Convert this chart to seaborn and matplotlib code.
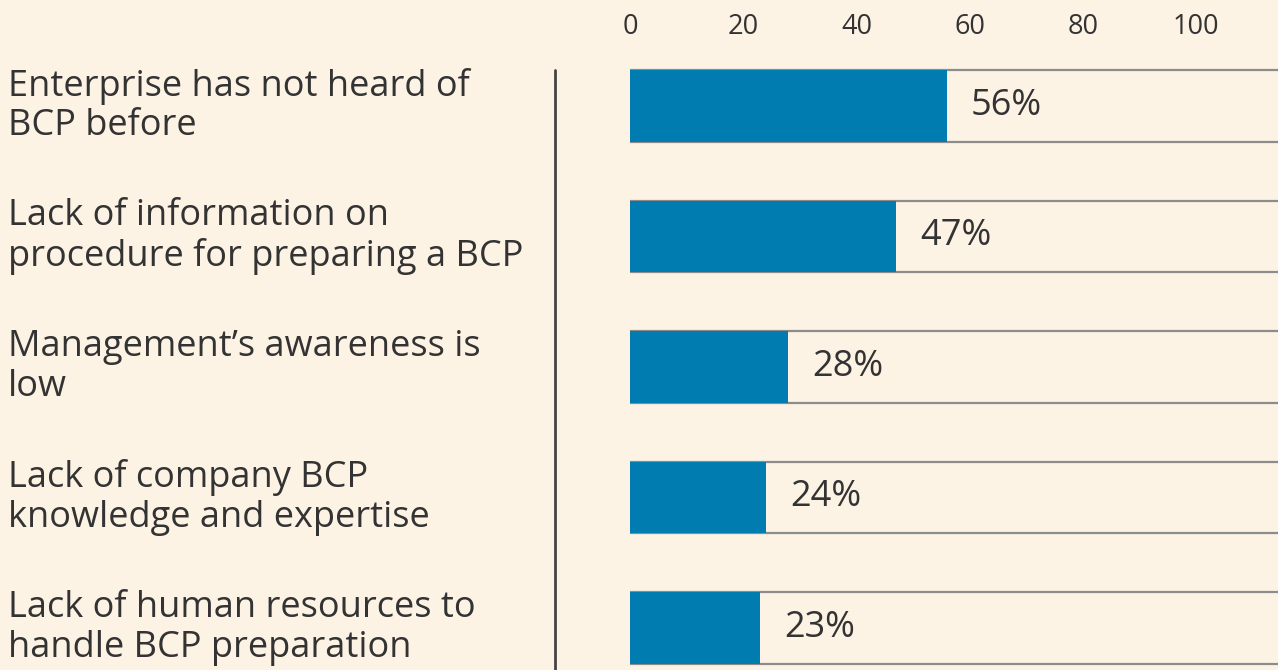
import matplotlib
matplotlib.use("Agg")
import matplotlib.pyplot as plt
import matplotlib.transforms as mtransforms
import seaborn as sns
import pandas as pd

# data
reasons = [
    "Enterprise has not heard of\nBCP before",
    "Lack of information on\nprocedure for preparing a BCP",
    "Management\u2019s awareness is\nlow",
    "Lack of company BCP\nknowledge and expertise",
    "Lack of human resources to\nhandle BCP preparation",
]
shares = [56, 47, 28, 24, 23]
ticks = [0, 20, 40, 60, 80, 100]

bg = "#fdf3e5"
blue = "#007cb0"
txt = "#333333"

sns.set_theme(style="white")
plt.rcParams["font.family"] = ["Open Sans", "DejaVu Sans"]

df = pd.DataFrame({"reason": reasons, "share": shares, "full": [130] * len(shares)})

fig = plt.figure(figsize=(12.78, 6.70), dpi=100)
fig.patch.set_facecolor(bg)
ax = fig.add_axes([630 / 1278, 0, 1 - 630 / 1278, 629 / 670])
ax.set_facecolor(bg)

# track behind each bar
sns.barplot(data=df, x="full", y="reason", orient="h", color=bg, saturation=1,
            edgecolor="#8c8c8c", linewidth=1.6, width=0.55, ax=ax)
sns.barplot(data=df, x="share", y="reason", orient="h", color=blue,
            linewidth=0, width=0.55, saturation=1, ax=ax)

ax.set_xlim(0, 114.5)
ax.set_ylim(4.322, -0.498)
for s in ax.spines.values():
    s.set_visible(False)

ax.xaxis.tick_top()
ax.set_xticks(ticks)
ax.set_xticklabels([str(t) for t in ticks], fontsize=19.5, color=txt)
ax.tick_params(axis="x", length=0, pad=0)
for lbl in ax.get_xticklabels():
    lbl.set_x(lbl.get_position()[0])
ax.set_xlabel("")
ax.set_ylabel("")
ax.set_yticks([])

# value labels
for i, v in enumerate(shares):
    ax.annotate(f"{v}%", xy=(v, i), xytext=(24, 0), textcoords="offset pixels",
                ha="left", va="center", fontsize=26, color=txt)

# category labels on the left
tr = mtransforms.blended_transform_factory(fig.transFigure, ax.transData)
for i, lab in enumerate(reasons):
    ax.text(8 / 1278, i, lab, transform=tr, ha="left", va="center",
            fontsize=26, color=txt, linespacing=1.12, clip_on=False)

# separator
fig.add_artist(plt.Line2D([555 / 1278, 555 / 1278], [0, 1 - 70 / 670],
                          color="#444444", linewidth=2))

fig.savefig("out.png", dpi=100, facecolor=bg)
